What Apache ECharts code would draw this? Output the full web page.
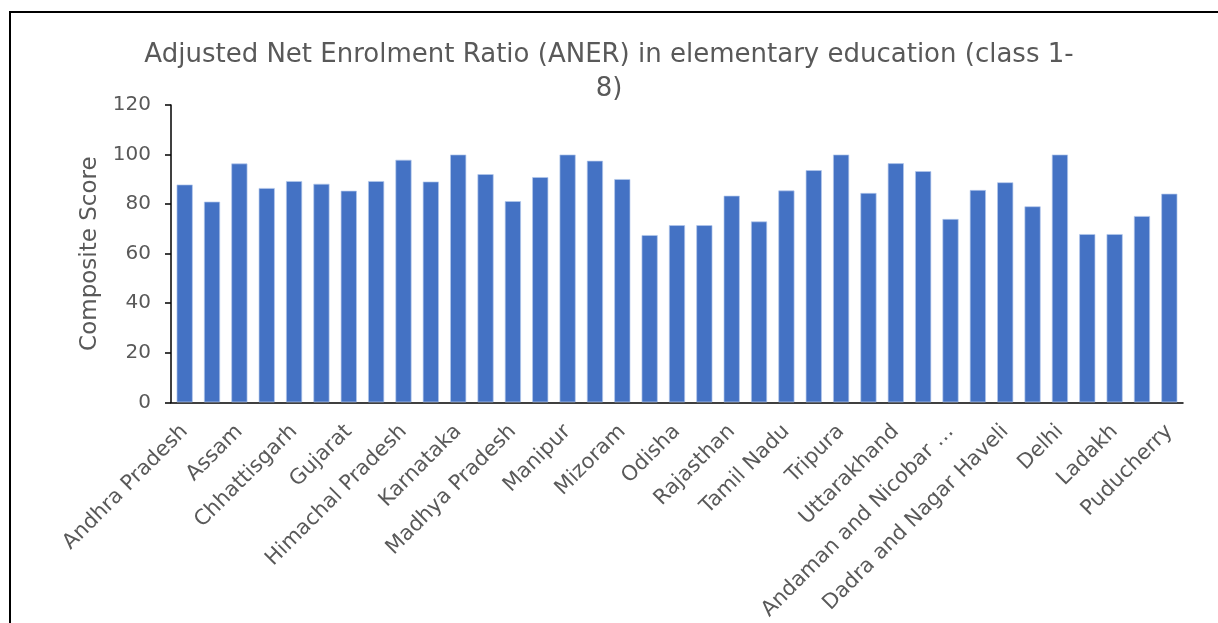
<!DOCTYPE html>
<html>
<head>
<meta charset="utf-8">
<script src="https://cdn.jsdelivr.net/npm/echarts@6/dist/echarts.min.js"></script>
<style>
html,body{margin:0;padding:0;background:#fff;}
#chart{width:1218px;height:623px;}
</style>
</head>
<body>
<div id="chart"></div>
<script>
const chartTitle = "Adjusted Net Enrolment Ratio (ANER) in elementary education (class 1-\n8)";
const yAxisName = "Composite Score";
const categories = [
  "Andhra Pradesh", "Arunachal Pradesh", "Assam", "Bihar", "Chhattisgarh",
  "Goa", "Gujarat", "Haryana", "Himachal Pradesh", "Jharkhand",
  "Karnataka", "Kerala", "Madhya Pradesh", "Maharashtra", "Manipur",
  "Meghalaya", "Mizoram", "Nagaland", "Odisha", "Punjab",
  "Rajasthan", "Sikkim", "Tamil Nadu", "Telangana", "Tripura",
  "Uttar Pradesh", "Uttarakhand", "West Bengal", "Andaman and Nicobar Islands", "Chandigarh",
  "Dadra and Nagar Haveli", "Daman and Diu", "Delhi", "Jammu and Kashmir", "Ladakh",
  "Lakshadweep", "Puducherry"
];
const scores = [
  87.9, 81.0, 96.4, 86.5, 89.3,
  88.2, 85.4, 89.3, 97.9, 89.1,
  100, 92.1, 81.2, 90.9, 100,
  97.5, 90.1, 67.5, 71.5, 71.5,
  83.4, 73.0, 85.5, 93.7, 100,
  84.5, 96.5, 93.3, 74.0, 85.7,
  88.8, 79.1, 100, 67.9, 67.9,
  75.2, 84.2
];
const yTicks = [0, 20, 40, 60, 80, 100, 120];

const FONT = "DejaVu Sans";
const GREY = "#595959";
const chart = echarts.init(document.getElementById('chart'));
chart.setOption({
  animation: false,
  backgroundColor: '#fff',
  graphic: [{
    type: 'rect', silent: true, z: 100,
    shape: { x: 10, y: 12, width: 1240, height: 700 },
    style: { fill: 'none', stroke: '#000', lineWidth: 2 }
  }],
  title: {
    text: chartTitle,
    left: 'center', top: 33,
    textStyle: { fontFamily: FONT, fontSize: 26, fontWeight: 'normal', color: GREY, lineHeight: 34, align: 'center' }
  },
  grid: { left: 171, right: 35, top: 105, bottom: 219, containLabel: false },
  xAxis: {
    type: 'category',
    data: categories,
    axisLine: { show: true, lineStyle: { color: '#000', width: 1.5 } },
    axisTick: { show: false },
    axisLabel: {
      interval: 1, rotate: 45, margin: 26,
      fontFamily: FONT, fontSize: 21, color: GREY,
      formatter: function (v) { return v.length > 22 ? v.slice(0, 19) + ' …' : v; }
    }
  },
  yAxis: {
    type: 'value', min: yTicks[0], max: yTicks[yTicks.length - 1], interval: 20,
    name: yAxisName, nameLocation: 'middle', nameGap: 69, nameRotate: 90,
    nameTextStyle: { fontFamily: FONT, fontSize: 23, color: GREY },
    axisLine: { show: true, lineStyle: { color: '#000', width: 1.5 } },
    axisTick: { show: true, length: 6, lineStyle: { color: '#000', width: 1.5 } },
    splitLine: { show: false },
    axisLabel: { fontFamily: FONT, fontSize: 20, color: GREY, margin: 20 }
  },
  series: [{
    type: 'bar',
    data: scores,
    barCategoryGap: '41%',
    itemStyle: { color: '#4472C4', borderColor: 'rgba(180,200,235,0.9)', borderWidth: 0.75 }
  }]
});
</script>
</body>
</html>
